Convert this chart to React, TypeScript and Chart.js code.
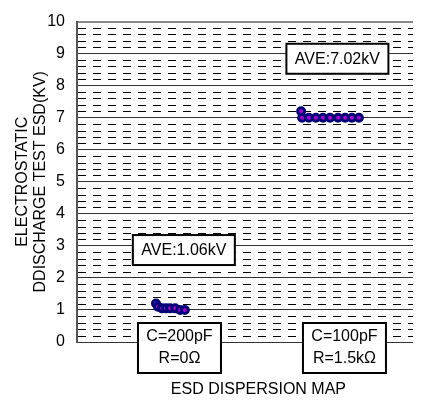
import React, { useEffect, useRef } from 'react';
import { Chart, registerables } from 'chart.js';

Chart.register(...registerables);

// ---- data ----
const yMin = 0;
const yMax = 10;
const minorStep = 0.2;
const lowX = [23.5, 24.1, 25.3, 26.5, 27.7, 29.2, 30.7, 32.1];
const lowY = [1.2, 1.1, 1.05, 1.05, 1.05, 1.05, 1.0, 1.0];
const highX = [66.7, 67.0, 69.0, 71.1, 73.2, 75.3, 77.7, 79.8, 81.8, 83.9];
const highY = [7.2, 7.0, 7.0, 7.0, 7.0, 7.0, 7.0, 7.0, 7.0, 7.0];
const conditionLabels = [
  ['C=200pF', 'R=0Ω'],
  ['C=100pF', 'R=1.5kΩ'],
];
const conditionX = [30.5, 79.6];
const averageLabels = ['AVE:1.06kV', 'AVE:7.02kV'];
const averageX = [31.8, 77.5];
const averageY = [2.87, 8.84];
const xTitle = 'ESD DISPERSION MAP';
const yTitle = ['ELECTROSTATIC', 'DDISCHARGE TEST ESD(KV)'];

const FONT = "'Liberation Sans', Arial, sans-serif";

const overlayPlugin = {
  id: 'overlay',
  beforeDatasetsDraw(chart: any) {
    const { ctx, chartArea } = chart;
    const ys = chart.scales.y;
    ctx.save();
    ctx.strokeStyle = '#000';
    ctx.lineWidth = 1;
    ctx.setLineDash([8, 7]);
    const n = Math.round((yMax - yMin) / minorStep);
    for (let i = 1; i < n; i++) {
      const v = yMin + i * minorStep;
      if (Math.abs(v - Math.round(v)) < 1e-6) continue;
      const py = Math.round(ys.getPixelForValue(v)) + 0.5;
      ctx.beginPath();
      ctx.moveTo(chartArea.left + 1, py);
      ctx.lineTo(chartArea.right, py);
      ctx.stroke();
    }
    ctx.restore();
  },
  afterDatasetsDraw(chart: any) {
    const { ctx, chartArea } = chart;
    const xs = chart.scales.x;
    const ys = chart.scales.y;
    ctx.save();
    ctx.setLineDash([]);
    ctx.font = `16px ${FONT}`;
    ctx.textAlign = 'center';
    ctx.textBaseline = 'middle';
    // average boxes
    averageLabels.forEach((t, i) => {
      const cx = xs.getPixelForValue(averageX[i]);
      const cy = ys.getPixelForValue(averageY[i]);
      const w = 102, h = 30;
      ctx.fillStyle = '#fff';
      ctx.fillRect(cx - w / 2, cy - h / 2, w, h);
      ctx.strokeStyle = '#000';
      ctx.lineWidth = 2;
      ctx.strokeRect(cx - w / 2, cy - h / 2, w, h);
      ctx.fillStyle = '#000';
      ctx.fillText(t, cx, cy + 1);
    });
    // condition boxes
    conditionLabels.forEach((lines, i) => {
      const cx = xs.getPixelForValue(conditionX[i]);
      const top = chartArea.bottom - 19;
      const w = 83, h = 50;
      ctx.fillStyle = '#fff';
      ctx.fillRect(cx - w / 2, top, w, h);
      ctx.strokeStyle = '#000';
      ctx.lineWidth = 2;
      ctx.strokeRect(cx - w / 2, top, w, h);
      ctx.fillStyle = '#000';
      lines.forEach((l, j) => ctx.fillText(l, cx, top + 14 + j * 22));
    });
    // x title
    ctx.fillStyle = '#000';
    ctx.fillText(xTitle, xs.getPixelForValue(54), chartArea.bottom + 48);
    ctx.restore();
  },
};

export default function App() {
  const ref = useRef<HTMLCanvasElement>(null);
  useEffect(() => {
    const chart = new Chart(ref.current as HTMLCanvasElement, {
      type: 'scatter',
      data: {
        datasets: [
          {
            data: lowX.map((x, i) => ({ x, y: lowY[i] })),
            pointRadius: 3.5,
            pointBorderWidth: 3,
            pointBorderColor: '#00007a',
            pointBackgroundColor: '#b000c8',
          },
          {
            data: highX.map((x, i) => ({ x, y: highY[i] })),
            pointRadius: 3.5,
            pointBorderWidth: 3,
            pointBorderColor: '#00007a',
            pointBackgroundColor: '#b000c8',
          },
        ],
      },
      options: {
        animation: false,
        responsive: false,
        devicePixelRatio: 1,
        layout: { padding: { top: 20, right: 24, bottom: 59, left: 0 } },
        plugins: { legend: { display: false }, tooltip: { enabled: false } },
        scales: {
          x: { type: 'linear', min: 0, max: 100, display: false },
          y: {
            min: yMin,
            max: yMax,
            afterFit: (s: any) => { s.width = 77; },
            ticks: {
              stepSize: 1,
              padding: 12,
              color: '#000',
              font: { family: FONT, size: 16 },
            },
            grid: {
              drawTicks: false,
              color: (c: any) => (c.tick && c.tick.value === yMax ? '#888' : '#333'),
              lineWidth: (c: any) => (c.tick && c.tick.value === yMax ? 2 : 1),
            },
            border: { color: '#555', width: 2 },
            title: {
              display: true,
              text: yTitle,
              color: '#000',
              font: { family: FONT, size: 16, lineHeight: 1.15 },
              padding: { top: 13, bottom: 0 },
            },
          },
        },
      },
      plugins: [overlayPlugin],
    });
    return () => chart.destroy();
  }, []);
  return (
    <div style={{ position: 'absolute', left: 0, top: 0, width: 437, height: 401, background: '#fff' }}>
      <canvas ref={ref} width={437} height={401} />
    </div>
  );
}
